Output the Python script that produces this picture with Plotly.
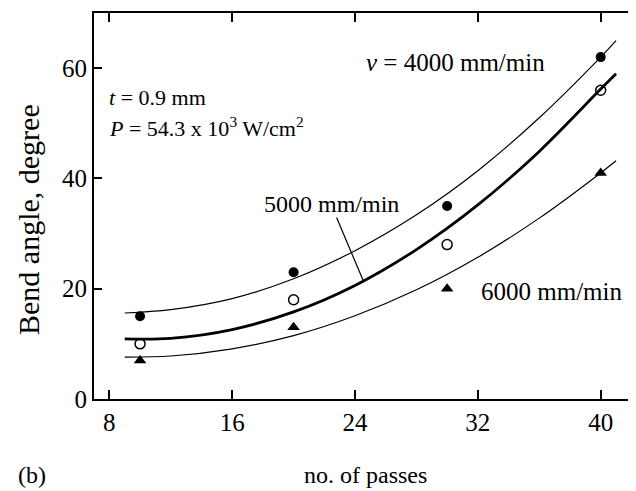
import plotly.graph_objects as go

# measured points
passes = [10, 20, 30, 40]
angle_4000 = [15, 23, 35, 62]
angle_5000 = [10, 18, 28, 56]
angle_6000 = [7, 13, 20, 41]

# fitted curves
curve_x = [9, 12, 16, 20, 24, 28, 32, 36, 40, 41]
curve_4000 = [15.6, 16.2, 18.2, 21.8, 26.9, 33.4, 41.4, 51.0, 62.0, 65.0]
curve_5000 = [10.9, 11.0, 12.6, 15.8, 20.6, 27.1, 35.2, 44.9, 56.2, 59.0]
curve_6000 = [7.6, 7.8, 9.1, 11.5, 15.1, 19.8, 25.7, 32.8, 41.0, 43.2]

x_ticks = [8, 16, 24, 32, 40]
y_ticks = [0, 20, 40, 60]

FONT = "Times New Roman, Liberation Serif, DejaVu Serif, serif"

fig = go.Figure()
for cy, w in [(curve_4000, 1.2), (curve_5000, 2.8), (curve_6000, 1.2)]:
    fig.add_trace(go.Scatter(x=curve_x, y=cy, mode="lines",
                             line=dict(color="black", width=w, shape="spline"),
                             showlegend=False, hoverinfo="skip"))

fig.add_trace(go.Scatter(x=passes, y=angle_4000, mode="markers",
                         marker=dict(symbol="circle", size=10, color="black"),
                         showlegend=False))
fig.add_trace(go.Scatter(x=passes, y=angle_5000, mode="markers",
                         marker=dict(symbol="circle-open", size=10, color="black",
                                     line=dict(width=1.5, color="black")),
                         showlegend=False))
fig.add_trace(go.Scatter(x=passes, y=angle_6000, mode="markers",
                         marker=dict(symbol="triangle-up", size=11, color="black"),
                         showlegend=False))

# leader line for 5000 label
fig.add_shape(type="line", x0=22.8, y0=32.9, x1=24.56, y1=21.3,
              xref="x", yref="y", line=dict(color="black", width=1.2))

def txt(size):
    return dict(family=FONT, size=size, color="black")

fig.add_annotation(x=7.85, y=54.7, xref="x", yref="y", xanchor="left", yanchor="middle",
                   text="<i>t</i> = 0.9 mm", showarrow=False, font=txt(22))
fig.add_annotation(x=7.85, y=49.3, xref="x", yref="y", xanchor="left", yanchor="middle",
                   text="<i>P</i> = 54.3 x 10<sup>3</sup> W/cm<sup>2</sup>",
                   showarrow=False, font=txt(22))
fig.add_annotation(x=24.6, y=61.1, xref="x", yref="y", xanchor="left", yanchor="middle",
                   text="<i>v</i> = 4000 mm/min", showarrow=False, font=txt(25))
fig.add_annotation(x=17.97, y=35.3, xref="x", yref="y", xanchor="left", yanchor="middle",
                   text="5000 mm/min", showarrow=False, font=txt(24))
fig.add_annotation(x=32.1, y=19.5, xref="x", yref="y", xanchor="left", yanchor="middle",
                   text="6000 mm/min", showarrow=False, font=txt(25))

# axis titles and panel label (plot area: x 94..636 px, y 13..399 px of the page)
fig.add_annotation(x=(365 - 94) / 542, y=(399 - 475) / 386, xref="paper", yref="paper",
                   xanchor="center", yanchor="middle", text="no. of passes",
                   showarrow=False, font=txt(24))
fig.add_annotation(x=(28 - 94) / 542, y=(399 - 220) / 386, xref="paper", yref="paper",
                   xanchor="center", yanchor="middle", text="Bend angle, degree",
                   textangle=-90, showarrow=False, font=txt(30))
fig.add_annotation(x=(16 - 94) / 542, y=(399 - 475) / 386, xref="paper", yref="paper",
                   xanchor="left", yanchor="middle", text="(b)", showarrow=False,
                   font=txt(24))

# the page body adds an 8 px offset, so the figure is 8 px smaller on each side
fig.update_layout(
    width=628, height=483,
    margin=dict(l=86, r=0, t=5, b=92),
    paper_bgcolor="white", plot_bgcolor="white",
    font=txt(25),
    xaxis=dict(range=[7, 42.3], tickvals=x_ticks, ticks="inside", ticklen=9,
               tickwidth=1.5, tickcolor="black", showline=True, linecolor="black",
               linewidth=2, mirror="ticks", showgrid=False, zeroline=False,
               automargin=False, tickfont=txt(25)),
    yaxis=dict(range=[0, 70], tickvals=y_ticks, ticks="inside", ticklen=8,
               tickwidth=1.5, tickcolor="black", showline=True, linecolor="black",
               linewidth=2, showgrid=False, zeroline=False,
               automargin=False, tickfont=txt(25)),
)

fig.write_html("out.html")
